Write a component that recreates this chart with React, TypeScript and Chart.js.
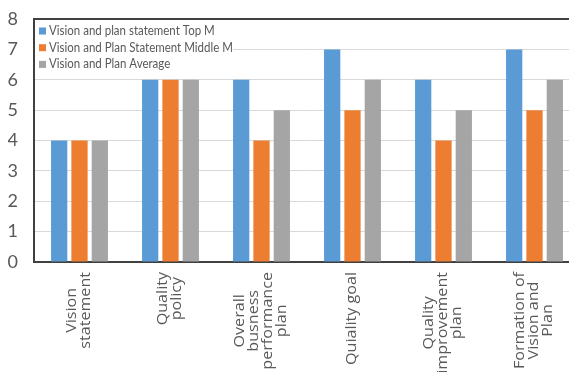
import { useEffect, useRef } from "react";
import { Chart, registerables } from "chart.js";

Chart.register(...registerables);

const categories: string[][] = [
  ["Vision", "statement"],
  ["Quality", "policy"],
  ["Overall", "busness", "performance", "plan"],
  ["Quiality goal"],
  ["Quality", "improvement", "plan"],
  ["Formation of", "Vision and", "Plan"],
];
const seriesNames = [
  "Vision and plan statement Top M",
  "Vision and Plan Statement Middle M",
  "Vision and Plan Average",
];
const topM = [4, 6, 6, 7, 6, 7];
const middleM = [4, 6, 4, 5, 4, 5];
const average = [4, 6, 5, 6, 5, 6];
const yMin = 0;
const yMax = 8;
const yStep = 1;

const colors = ["#5B9BD5", "#ED7D31", "#A5A5A5"];
const textColor = "#595959";
const axisColor = "#404040";

const xLabelPlugin = {
  id: "xLabelPlugin",
  afterDraw(chart: any) {
    const { ctx, chartArea, scales } = chart;
    const xs = scales.x;
    const stretch = 1.15;
    const lineH = 14;
    ctx.save();
    ctx.font = "14px 'Open Sans'";
    ctx.fillStyle = textColor;
    categories.forEach((lines, i) => {
      const cx = xs.getPixelForValue(i);
      const maxW = Math.max(...lines.map((l) => ctx.measureText(l).width)) * stretch;
      const blockTop = chartArea.bottom + 10;
      lines.forEach((line, j) => {
        const lx = cx + (j - (lines.length - 1) / 2) * lineH;
        ctx.save();
        ctx.translate(lx, blockTop + maxW / 2);
        ctx.rotate(-Math.PI / 2);
        ctx.scale(stretch, 1);
        ctx.textAlign = "center";
        ctx.textBaseline = "middle";
        ctx.fillText(line, 0, 0);
        ctx.restore();
      });
    });
    ctx.restore();
  },
};

const framePlugin = {
  id: "framePlugin",
  afterDatasetsDraw(chart: any) {
    const { ctx, chartArea } = chart;
    ctx.save();
    ctx.strokeStyle = axisColor;
    ctx.lineWidth = 2;
    ctx.beginPath();
    ctx.moveTo(chartArea.left, chartArea.top);
    ctx.lineTo(chartArea.right, chartArea.top);
    ctx.stroke();
    const lx = chartArea.left + 1;
    const ly = chartArea.top + 1;
    ctx.fillStyle = "#ffffff";
    ctx.fillRect(lx, ly, 198, 56);
    ctx.font = "12.5px Lato";
    ctx.textBaseline = "middle";
    ctx.textAlign = "left";
    seriesNames.forEach((name, i) => {
      const y = chartArea.top + 12 + i * 16.7;
      ctx.fillStyle = colors[i];
      ctx.fillRect(chartArea.left + 5, y - 3.5, 7, 7);
      ctx.fillStyle = textColor;
      ctx.save();
      ctx.translate(chartArea.left + 15, y);
      ctx.scale(0.92, 1);
      ctx.fillText(name, 0, 0);
      ctx.restore();
    });
    ctx.restore();
  },
};

export default function App() {
  const ref = useRef<HTMLCanvasElement>(null);
  useEffect(() => {
    if (!ref.current) return;
    const chart = new Chart(ref.current, {
      type: "bar",
      data: {
        labels: categories.map((c) => c.join(" ")),
        datasets: [
          { label: seriesNames[0], data: topM, backgroundColor: colors[0] },
          { label: seriesNames[1], data: middleM, backgroundColor: colors[1] },
          { label: seriesNames[2], data: average, backgroundColor: colors[2] },
        ],
      },
      options: {
        responsive: false,
        maintainAspectRatio: false,
        animation: false,
        layout: { padding: { top: 11, right: 3, left: 0, bottom: 0 } },
        plugins: { legend: { display: false }, tooltip: { enabled: false } },
        datasets: { bar: { categoryPercentage: 0.67, barPercentage: 0.8 } },
        scales: {
          x: {
            grid: { display: false },
            border: { color: axisColor, width: 2 },
            ticks: { display: false },
            afterFit: (s: any) => {
              s.height = 126;
            },
          },
          y: {
            min: yMin,
            max: yMax,
            ticks: {
              stepSize: yStep,
              padding: 16,
              color: textColor,
              font: { family: "Lato", size: 18 },
            },
            grid: { color: "#d9d9d9", drawTicks: false },
            border: { color: axisColor, width: 2 },
            afterFit: (s: any) => {
              s.width = 26;
              s.paddingTop = 0;
              s.paddingBottom = 0;
            },
          },
        },
      },
      plugins: [xLabelPlugin, framePlugin],
    });
    return () => chart.destroy();
  }, []);
  return (
    <div style={{ width: 569, height: 364, overflow: "hidden" }}>
      <canvas ref={ref} width={575} height={380} style={{ display: "block" }} />
    </div>
  );
}
